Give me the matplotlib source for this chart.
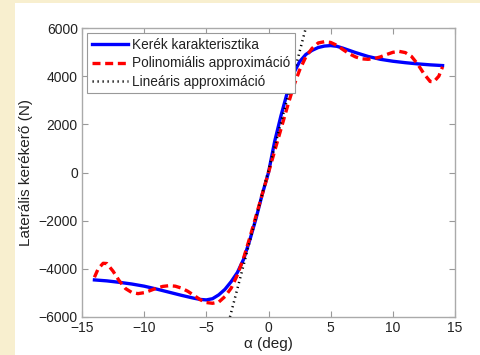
import matplotlib
matplotlib.use('Agg')
import matplotlib.pyplot as plt
from matplotlib.patches import Rectangle

plt.rcParams['font.family'] = ['Liberation Sans', 'DejaVu Sans']

# Kerék karakterisztika (solid blue)
alpha_kerek = [-14, -13, -12, -11, -10, -9, -8, -7, -6, -5.5, -5, -4.5, -4, -3.5, -3,
               -2.5, -2, -1.5, -1, -0.5, 0, 0.5, 1, 1.5, 2, 2.5, 3, 3.5, 4, 4.5, 5,
               5.5, 6, 7, 8, 9, 10, 11, 12, 13, 14]
F_kerek = [-4460, -4500, -4560, -4630, -4720, -4840, -4970, -5100, -5220, -5270, -5290,
           -5240, -5080, -4850, -4530, -4150, -3600, -2800, -1900, -900, 0, 1300, 2350,
           3300, 4100, 4600, 4900, 5070, 5190, 5250, 5270, 5240, 5160, 4980, 4820, 4700,
           4620, 4560, 4510, 4470, 4440]

# Polinomiális approximáció (red dashed)
alpha_poli = [-14, -13.7, -13.3, -13, -12.5, -12, -11.5, -11, -10.5, -10, -9.5, -9, -8.5,
              -8, -7.5, -7, -6.5, -6, -5.5, -5, -4.5, -4, -3.5, -3, -2.5, -2, -1.5, -1,
              -0.5, 0, 0.5, 1, 1.5, 2, 2.5, 3, 3.5, 4, 4.5, 5, 5.5, 6, 6.5, 7, 7.5, 8,
              8.5, 9, 9.5, 10, 10.5, 11, 11.5, 12, 12.5, 13, 13.3, 13.7, 14]
F_poli = [-4350, -4000, -3770, -3780, -4100, -4500, -4820, -4980, -5030, -4990, -4900,
          -4800, -4730, -4700, -4720, -4800, -4930, -5100, -5280, -5400, -5430, -5380,
          -5150, -4800, -4250, -3550, -2700, -1800, -900, 0, 900, 1800, 2700, 3550, 4250,
          4800, 5150, 5380, 5430, 5400, 5280, 5100, 4930, 4800, 4720, 4700, 4730, 4800,
          4900, 4990, 5030, 4980, 4820, 4500, 4100, 3780, 3770, 4000, 4390]

# Lineáris approximáció (black dotted)
alpha_lin = [-3.1, 3.0]
F_lin = [-6000, 6000]

labels = ['Kerék karakterisztika', 'Polinomiális approximáció', 'Lineáris approximáció']

fig = plt.figure(figsize=(4.81, 3.55), dpi=100)
fig.patch.set_facecolor('#f8efcf')
fig.patches.append(Rectangle((15 / 481, 0), 1, 1 - 3 / 355, transform=fig.transFigure,
                             facecolor='white', edgecolor='none', zorder=-5))

ax = fig.add_axes([82 / 481, 1 - 317 / 355, 373 / 481, 289 / 355])
ax.set_zorder(2)
ax.plot(alpha_kerek, F_kerek, color='#0000ff', lw=2.4, label=labels[0])
ax.plot(alpha_poli, F_poli, color='#ff0000', lw=2.4, linestyle=(0, (2.4, 1.4)), label=labels[1])
ax.plot(alpha_lin, F_lin, color='black', lw=1.8, linestyle=(0, (0.5, 1.5)), label=labels[2])

ax.set_xlim(-15, 15)
ax.set_ylim(-6000, 6000)
ax.set_xticks([-15, -10, -5, 0, 5, 10, 15])
ax.set_yticks([-6000, -4000, -2000, 0, 2000, 4000, 6000])
ax.set_xticklabels(['\u221215', '\u221210', '\u22125', '0', '5', '10', '15'])
ax.set_yticklabels(['\u22126000', '\u22124000', '\u22122000', '0', '2000', '4000', '6000'])
ax.tick_params(direction='in', length=4, width=0.8, color='#999999', labelsize=10,
               labelcolor='#222222', top=True, right=True, pad=3)
for s in ax.spines.values():
    s.set_color('#aaaaaa')
    s.set_linewidth(1.0)

ax.set_xlabel('\u03b1 (deg)', fontsize=11, color='#222222', labelpad=1)
ax.set_ylabel('Laterális kerékerő (N)', fontsize=11, color='#222222', labelpad=4)

leg = ax.legend(loc='upper left', bbox_to_anchor=(0.013, 0.982), fontsize=9.8,
                frameon=True, fancybox=False, framealpha=1, edgecolor='#999999',
                handlelength=2.7, handletextpad=0.25, labelspacing=0.32, borderpad=0.35,
                borderaxespad=0)
leg.get_frame().set_linewidth(0.8)
for t in leg.get_texts():
    t.set_color('#222222')

fig.savefig('out.png', dpi=100)
